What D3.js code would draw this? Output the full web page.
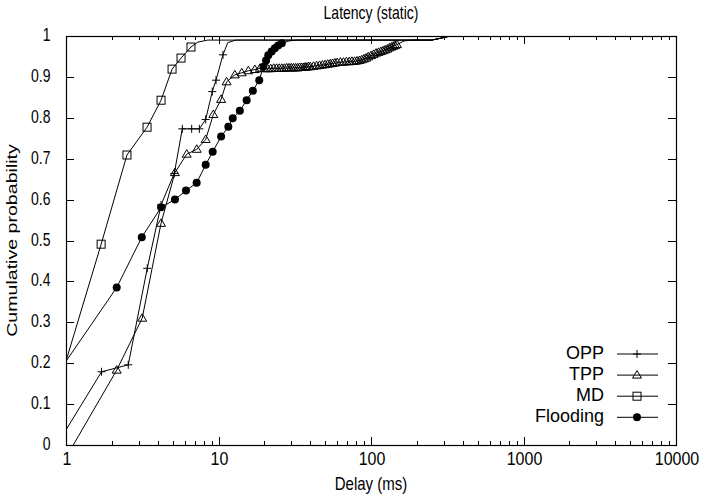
<!DOCTYPE html>
<html>
<head>
<meta charset="utf-8">
<script src="https://cdn.jsdelivr.net/npm/d3@7"></script>
<style>
  body { margin: 0; background: #fff; }
  text { font-family: "Liberation Sans", Arial, Helvetica, sans-serif; fill: #000; }
</style>
</head>
<body>
<div id="chart"></div>
<script>
const width = 708;
const height = 496;
const margin = { top: 36, right: 32, bottom: 51, left: 66 };

// x ticks / y ticks
const xTicks = [1, 10, 100, 1000, 10000];
const xTickLabels = ["1", "10", "100", "1000", "10000"];
const yTicks = [0, 0.1, 0.2, 0.3, 0.4, 0.5, 0.6, 0.7, 0.8, 0.9, 1];
const yTickLabels = ["0", "0.1", "0.2", "0.3", "0.4", "0.5", "0.6", "0.7", "0.8", "0.9", "1"];

// OPP (marked points)
const oppX = [0.9, 1.71, 2.56, 3.41, 4.2, 5.13, 5.79, 6.67, 7.49, 8.24, 9.1, 9.63, 10.7];
const oppY = [0.009, 0.179, 0.196, 0.432, 0.587, 0.664, 0.773, 0.773, 0.773, 0.796, 0.864, 0.892, 0.954];
const oppTailX = [11.5, 13];
const oppTailY = [0.984, 0.99];

// TPP
const tppX = [0.9, 2.15, 3.16, 4.2, 5.18, 6.19, 7.2, 8.24, 9.25, 10.4, 11.3, 12.8, 14.2, 15.7, 17.3, 18.7,
  20, 21, 22, 23, 24, 25, 26, 27, 28, 29, 30, 31, 32, 33, 34, 35, 36, 37, 38, 39, 40,
  42, 44, 46, 48, 50, 52, 54, 56, 58, 60, 63, 66, 69, 72, 75, 78, 81, 84, 87, 90, 93, 96,
  100, 104, 108, 112, 116, 120, 124, 128, 132, 136, 140, 144, 148];
const tppY = [-0.06, 0.183, 0.31, 0.542, 0.666, 0.711, 0.723, 0.747, 0.808, 0.845, 0.888, 0.905, 0.91, 0.915, 0.918, 0.921,
  0.92, 0.92, 0.92, 0.921, 0.921, 0.921, 0.921, 0.921, 0.922, 0.922, 0.922, 0.922, 0.922, 0.922, 0.923, 0.923, 0.923, 0.924, 0.924, 0.925, 0.925,
  0.926, 0.927, 0.928, 0.929, 0.930, 0.931, 0.932, 0.933, 0.934, 0.935, 0.936, 0.936, 0.937, 0.937, 0.938, 0.938, 0.939, 0.940, 0.942, 0.944, 0.946, 0.949,
  0.952, 0.955, 0.958, 0.960, 0.962, 0.964, 0.966, 0.968, 0.971, 0.973, 0.975, 0.977, 0.979];
const tppTailX = [165, 190];
const tppTailY = [0.988, 0.99];

// MD
const mdX = [0.8, 1.70, 2.51, 3.40, 4.20, 4.96, 5.68, 6.6];
const mdY = [0.085, 0.491, 0.709, 0.777, 0.843, 0.919, 0.946, 0.973];
const mdTailX = [7.3, 8.5];
const mdTailY = [0.985, 0.99];

// Flooding
const floodX = [0.8, 2.15, 3.14, 4.2, 5.18, 6.12, 7.19, 8.24, 9.16, 10.4, 11.6, 12.4, 13.8, 15.3, 16.8, 18.5, 19.7, 20.5, 21.2, 22.3, 23.4, 24.6, 26];
const floodY = [0.152, 0.385, 0.508, 0.581, 0.600, 0.622, 0.641, 0.685, 0.717, 0.754, 0.778, 0.799, 0.817, 0.843, 0.866, 0.892, 0.925, 0.940, 0.953, 0.962, 0.970, 0.977, 0.982];
const floodTailX = [29, 33];
const floodTailY = [0.988, 0.99];

// shared top run to 1
const topX = [250, 290, 330, 10000];
const topY = [0.99, 0.995, 1, 1];

const seriesNames = ["OPP", "TPP", "MD", "Flooding"];
const seriesSymbols = ["plus", "triangle", "square", "circle"];

const series = [
  { name: seriesNames[0], sym: seriesSymbols[0], x: oppX, y: oppY, tx: oppTailX, ty: oppTailY },
  { name: seriesNames[1], sym: seriesSymbols[1], x: tppX, y: tppY, tx: tppTailX, ty: tppTailY },
  { name: seriesNames[2], sym: seriesSymbols[2], x: mdX, y: mdY, tx: mdTailX, ty: mdTailY },
  { name: seriesNames[3], sym: seriesSymbols[3], x: floodX, y: floodY, tx: floodTailX, ty: floodTailY }
];

const svg = d3.select("#chart")
  .append("svg")
  .attr("width", width)
  .attr("height", height);

const x = d3.scaleLog()
  .domain([1, 10000])
  .range([margin.left, width - margin.right]);
const y = d3.scaleLinear()
  .domain([0, 1])
  .range([height - margin.bottom, margin.top]);

const x0 = x.range()[0], x1 = x.range()[1];
const y0 = y.range()[0], y1 = y.range()[1];

svg.append("clipPath").attr("id", "clip")
  .append("rect")
  .attr("x", x0).attr("y", y1)
  .attr("width", x1 - x0).attr("height", y0 - y1);

// text with baseline at (tx, ty); glyphs in the source are a bit taller than wide
function label(g, tx, ty, str, anchor, size, stretch) {
  return g.append("text")
    .attr("transform", `translate(${tx},${ty}) scale(1,${stretch})`)
    .attr("text-anchor", anchor)
    .attr("font-size", size)
    .text(str);
}

// ticks (gnuplot style, inward, mirrored)
const tickG = svg.append("g").attr("stroke", "#000").attr("stroke-width", 1);
const minor = [];
for (let d = 1; d < 10000; d *= 10) {
  for (let k = 2; k < 10; k++) minor.push(d * k);
}
minor.forEach(v => {
  const px = Math.round(x(v)) + 0.5;
  tickG.append("line").attr("x1", px).attr("x2", px).attr("y1", y0).attr("y2", y0 - 4);
  tickG.append("line").attr("x1", px).attr("x2", px).attr("y1", y1).attr("y2", y1 + 4);
});
xTicks.forEach(v => {
  const px = Math.round(x(v)) + 0.5;
  tickG.append("line").attr("x1", px).attr("x2", px).attr("y1", y0).attr("y2", y0 - 8);
  tickG.append("line").attr("x1", px).attr("x2", px).attr("y1", y1).attr("y2", y1 + 8);
});
yTicks.forEach(v => {
  const py = Math.round(y(v)) + 0.5;
  tickG.append("line").attr("x1", x0).attr("x2", x0 + 8).attr("y1", py).attr("y2", py);
  tickG.append("line").attr("x1", x1).attr("x2", x1 - 8).attr("y1", py).attr("y2", py);
});

// tick labels
const xl = svg.append("g");
xTicks.forEach((d, i) => label(xl, x(d) + 1, y0 + 20, xTickLabels[i], "middle", 16, 1.15));
const yl = svg.append("g");
yTicks.forEach((d, i) => label(yl, 50.5, y(d) + 5, yTickLabels[i], "end", 14, 1.3));

// titles
label(svg, (x0 + x1) / 2, 19, "Latency (static)", "middle", 14, 1.3);
label(svg, (x0 + x1) / 2, 490, "Delay (ms)", "middle", 15, 1.25);
svg.append("text")
  .attr("transform", `translate(17,${(y0 + y1) / 2}) rotate(-90) scale(1.4,1)`)
  .attr("text-anchor", "middle").attr("font-size", 14).text("Cumulative probability");

function drawSymbol(g, sym, cx, cy) {
  if (sym === "plus") {
    g.append("path").attr("d", `M${cx - 4},${cy}H${cx + 4}M${cx},${cy - 4}V${cy + 4}`)
      .attr("stroke", "#000").attr("fill", "none");
  } else if (sym === "triangle") {
    g.append("path").attr("d", `M${cx},${cy - 4.5}L${cx + 4.5},${cy + 3}L${cx - 4.5},${cy + 3}Z`)
      .attr("stroke", "#000").attr("fill", "none");
  } else if (sym === "square") {
    g.append("rect").attr("x", cx - 4).attr("y", cy - 4).attr("width", 8).attr("height", 8)
      .attr("stroke", "#000").attr("fill", "none");
  } else {
    g.append("circle").attr("cx", cx).attr("cy", cy).attr("r", 4).attr("fill", "#000");
  }
}

const line = d3.line().x(d => x(d[0])).y(d => y(d[1]));
const plot = svg.append("g").attr("clip-path", "url(#clip)");

series.forEach(s => {
  const pts = s.x.map((v, i) => [v, s.y[i]])
    .concat(s.tx.map((v, i) => [v, s.ty[i]]))
    .concat(topX.map((v, i) => [v, topY[i]]));
  plot.append("path")
    .attr("d", line(pts))
    .attr("fill", "none")
    .attr("stroke", "#000")
    .attr("stroke-width", 1);
  const mg = plot.append("g");
  s.x.forEach((v, i) => drawSymbol(mg, s.sym, x(v), y(s.y[i])));
});

// frame
svg.append("rect")
  .attr("x", x0 + 0.5).attr("y", y1 + 0.5)
  .attr("width", x1 - x0).attr("height", y0 - y1)
  .attr("fill", "none").attr("stroke", "#000").attr("stroke-width", 1.2);

// legend
const legend = svg.append("g");
series.forEach((s, i) => {
  const ly = 354 + i * 21.1;
  label(legend, 604, ly + 4.5, s.name, "end", 18, 1.05);
  legend.append("line").attr("x1", 617).attr("x2", 658).attr("y1", ly).attr("y2", ly)
    .attr("stroke", "#000");
  drawSymbol(legend, s.sym, 637, ly);
});
</script>
</body>
</html>
